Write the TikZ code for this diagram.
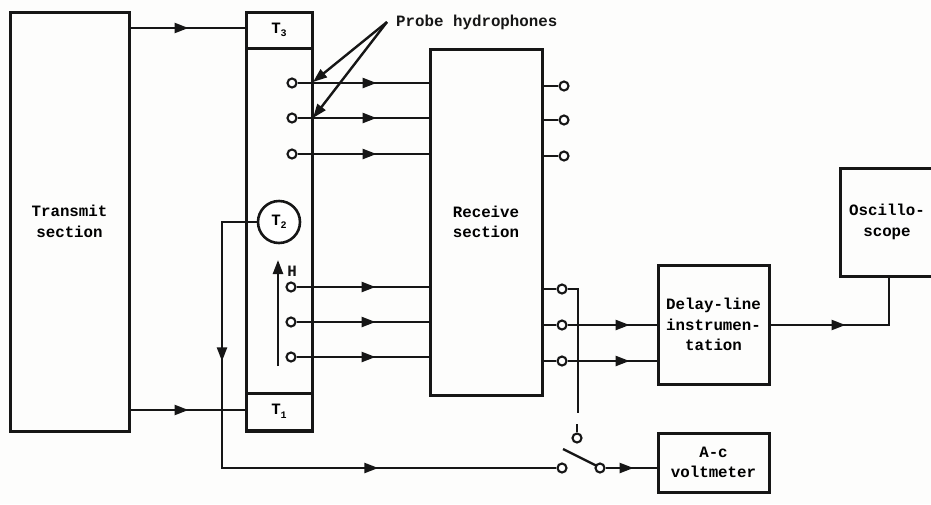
\documentclass[tikz,border=0pt]{standalone}
\usepackage{fontspec}
\setmainfont{Liberation Mono}[BoldFont={Liberation Mono Bold}]
\usetikzlibrary{arrows.meta,decorations.markings}
\newcommand{\lowsub}[1]{\raisebox{-3.5pt}{\fontsize{10}{10}\selectfont #1}}
\tikzset{
  x=1pt,y=-1pt,
  tip/.tip={Triangle[length=14pt,width=10pt]},
  boxn/.style={draw=ink,line width=3pt,fill=none,inner sep=0pt,align=center,line join=miter},
  wire/.style={draw=ink,line width=2.4pt},
  lab/.style={inner sep=0pt,text=ink,align=center},
  term/.style={circle,draw=ink,line width=2.1pt,fill=white,minimum size=9pt,inner sep=0pt},
  flowat/.style={postaction={decorate},decoration={markings,mark=at position #1pt with {\arrow{tip}}}},
  flowtwo/.style 2 args={postaction={decorate},decoration={markings,mark=at position #1pt with {\arrow{tip}},mark=at position #2pt with {\arrow{tip}}}},
  every node/.append style={font=\fontsize{15.8}{20.5}\selectfont\bfseries},
}
\definecolor{ink}{RGB}{22,22,22}
\definecolor{paper}{RGB}{253,253,252}
\begin{document}
\begin{tikzpicture}
\useasboundingbox (0,0) rectangle (931,504);
\clip (0,0) rectangle (931,504);
\fill[paper] (0,0) rectangle (931,504);
% boxes
\node[boxn,minimum width=119pt,minimum height=419pt] (trans) at (69.5,221.5) {Transmit\\section};
\node[boxn,minimum width=66pt,minimum height=419pt] (col) at (279,221.5) {};
\node[boxn,minimum width=66pt,minimum height=36pt] (t3) at (279,30) {T\lowsub{3}};
\node[boxn,minimum width=66pt,minimum height=37pt] (t1) at (279,411.5) {T\lowsub{1}};
\node[boxn,minimum width=112pt,minimum height=346pt] (rec) at (486,222) {Receive\\section};
\node[boxn,minimum width=111pt,minimum height=119pt] (delay) at (713.5,324.5) {Delay-line\\instrumen-\\tation};
\node[boxn,minimum width=111pt,minimum height=59pt] (volt) at (713.5,462.5) {A-c\\voltmeter};
\node[boxn,minimum width=94pt,minimum height=108pt] (scope) at (887,222) {Oscillo-\\scope};
\node[circle,draw=ink,line width=2.6pt,fill=white,minimum size=42pt,inner sep=0pt] (t2) at (279,222) {T\lowsub{2}};
% terminals
\node[term] (h1) at (292,83) {};
\node[term] (h2) at (292,118) {};
\node[term] (h3) at (292,154) {};
\node[term] (h4) at (291,287) {};
\node[term] (h5) at (291,322) {};
\node[term] (h6) at (291,357) {};
\node[term] (o1) at (564,86) {};
\node[term] (o2) at (564,120) {};
\node[term] (o3) at (564,156) {};
\node[term] (o4) at (562,289) {};
\node[term] (o5) at (562,325) {};
\node[term] (o6) at (562,361) {};
\node[term] (swt) at (577,438) {};
\node[term] (swl) at (562,468) {};
\node[term] (swr) at (600,468) {};
% labels
\node[lab,anchor=west] (probe) at (396,22) {Probe hydrophones};
\node[lab] (hlab) at (292,271) {H};
% coordinates
\coordinate (c1) at (313,82);
\coordinate (c2) at (313,118);
\coordinate (cw) at (222,468);
\coordinate (fa) at (278,366);
\coordinate (fb) at (278,260);
\coordinate (tapc) at (578,289);
\coordinate (tape) at (578,413);
\coordinate (stem) at (577,424);
\coordinate (blade1) at (563,449);
\coordinate (blade2) at (597,466);
\coordinate (scorner) at (889,325);
% connectors
\draw[wire,flowat=58] (trans.east |- 0,28) -- (t3.west |- 0,28);
\draw[wire,flowat=58] (trans.east |- 0,410) -- (t1.west |- 0,410);
\foreach \n in {h1,h2,h3,h4,h5,h6}
  \draw[wire,flowat=79] (\n.east) -- (\n -| rec.west);
\foreach \n in {o1,o2,o3,o4,o5,o6}
  \draw[wire] (\n -| rec.east) -- (\n.west);
\draw[wire] (o4.east) -- (tapc) -- (tape);
\draw[wire,flowat=62] (o5.east) -- (o5 -| delay.west);
\draw[wire,flowat=62] (o6.east) -- (o6 -| delay.west);
\draw[wire,flowat=28] (swr.east) -- (swr -| volt.west);
\draw[wire,flowat=75] (delay.east |- scorner) -- (scorner) -- (scope.south -| scorner);
\draw[wire,flowtwo={174}{437}] (t2.west) -| (cw) -- (swl.west);
\draw[wire] (swt.north) -- (stem);
\draw[wire] (blade1) -- (blade2);
\draw[wire,-{tip}] (fa) -- (fb);
\draw[wire,-{tip}] (probe.west) ++(-9,0) -- (c1);
\draw[wire,-{tip}] (probe.west) ++(-9,0) -- (c2);
\end{tikzpicture}
\end{document}
